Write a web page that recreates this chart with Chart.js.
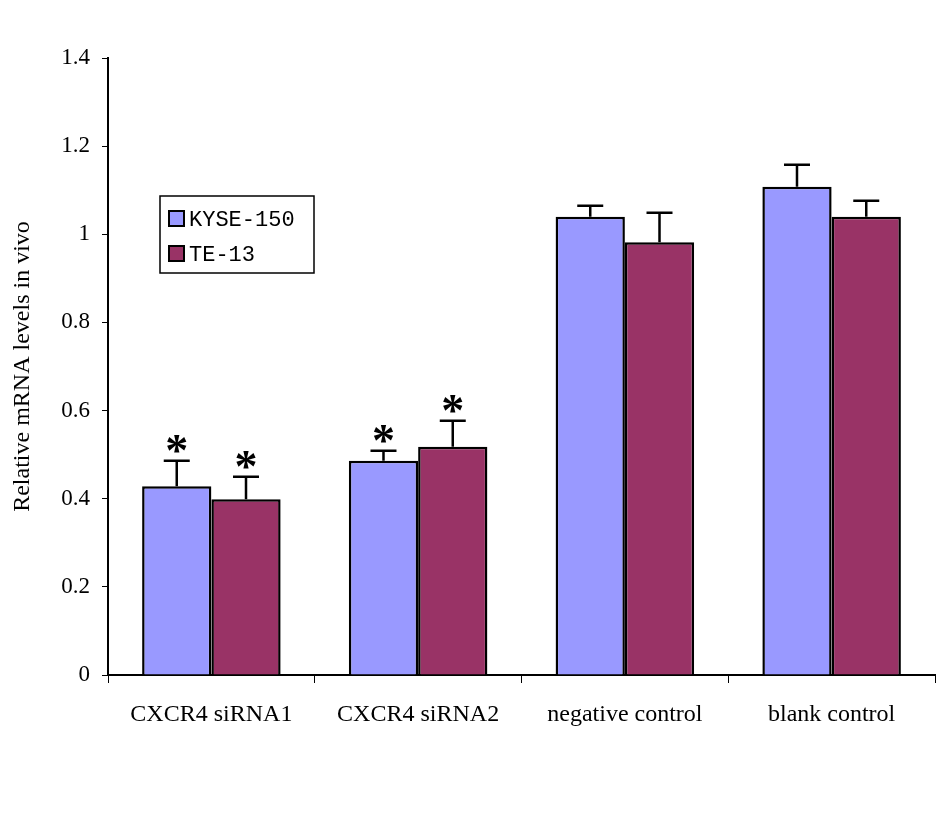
<!DOCTYPE html>
<html>
<head>
<meta charset="utf-8">
<script src="https://cdn.jsdelivr.net/npm/chart.js@4"></script>
<style>
  html, body { margin: 0; padding: 0; background: #fff; }
  #wrap { width: 945px; height: 815px; }
</style>
</head>
<body>
<div id="wrap"><canvas id="mrnaChart" width="945" height="815"></canvas></div>
<script>
// data
const categories = ['CXCR4 siRNA1', 'CXCR4 siRNA2', 'negative control', 'blank control'];
const kyseValues = [0.428, 0.486, 1.040, 1.108];
const kyseErrors = [0.058, 0.023, 0.025, 0.050];
const teValues = [0.399, 0.518, 0.982, 1.040];
const teErrors = [0.051, 0.059, 0.067, 0.036];
const kyseStars = [true, true, false, false];
const teStars = [true, true, false, false];
const yTicks = [0, 0.2, 0.4, 0.6, 0.8, 1, 1.2, 1.4];

const serif = '"Liberation Serif", "DejaVu Serif", serif';

// error bars (only upper whisker) + asterisks
const errorBarPlugin = {
    id: 'errorBars',
    afterDatasetsDraw(chart) {
        const ctx = chart.ctx;
        const yScale = chart.scales.y;
        chart.data.datasets.forEach((ds, i) => {
            const meta = chart.getDatasetMeta(i);
            meta.data.forEach((bar, j) => {
                const top = yScale.getPixelForValue(ds.data[j] + ds.errors[j]);
                ctx.save();
                ctx.strokeStyle = '#000';
                ctx.lineWidth = 2.5;
                ctx.beginPath();
                ctx.moveTo(bar.x, bar.y);
                ctx.lineTo(bar.x, top);
                ctx.moveTo(bar.x - 13, top);
                ctx.lineTo(bar.x + 13, top);
                ctx.stroke();
                if (ds.stars[j]) {
                    ctx.fillStyle = '#000';
                    ctx.font = 'bold 46px ' + serif;
                    ctx.textAlign = 'center';
                    ctx.textBaseline = 'alphabetic';
                    ctx.fillText('*', bar.x, top + 5);
                }
                ctx.restore();
            });
        });
    }
};

// legend box inside the plot
const boxLegendPlugin = {
    id: 'boxLegend',
    afterDraw(chart) {
        const ctx = chart.ctx;
        const x = 160, y = 196, w = 154, h = 77;
        ctx.save();
        ctx.fillStyle = '#fff';
        ctx.fillRect(x, y, w, h);
        ctx.strokeStyle = '#000';
        ctx.lineWidth = 1.5;
        ctx.strokeRect(x, y, w, h);
        ctx.font = '22px "Liberation Mono", "DejaVu Sans Mono", monospace';
        ctx.textBaseline = 'middle';
        chart.data.datasets.forEach((ds, i) => {
            const cy = y + 23 + i * 35;
            ctx.fillStyle = ds.backgroundColor;
            ctx.fillRect(x + 9, cy - 8, 15, 15);
            ctx.lineWidth = 2;
            ctx.strokeRect(x + 9, cy - 8, 15, 15);
            ctx.fillStyle = '#000';
            ctx.fillText(ds.label, x + 29, cy + 1);
        });
        ctx.restore();
    }
};

const ctxMrna = document.getElementById('mrnaChart').getContext('2d');
new Chart(ctxMrna, {
    type: 'bar',
    data: {
        labels: categories,
        datasets: [{
            label: 'KYSE-150',
            data: kyseValues,
            errors: kyseErrors,
            stars: kyseStars,
            backgroundColor: '#9999ff',
            borderColor: '#000',
            borderWidth: 2.5
        }, {
            label: 'TE-13',
            data: teValues,
            errors: teErrors,
            stars: teStars,
            backgroundColor: '#993366',
            borderColor: '#000',
            borderWidth: 2.5
        }]
    },
    options: {
        responsive: false,
        animation: false,
        layout: { padding: { top: 58, right: 10, left: 8, bottom: 0 } },
        datasets: { bar: { categoryPercentage: 0.67, barPercentage: 1.0 } },
        plugins: { legend: { display: false }, tooltip: { enabled: false } },
        scales: {
            x: {
                grid: { drawOnChartArea: false, color: '#000', tickLength: 8, offset: true },
                border: { color: '#000', width: 2 },
                ticks: { color: '#000', font: { family: serif, size: 24 }, padding: 17, maxRotation: 0 },
                afterFit(scale) { scale.height = 140; }
            },
            y: {
                min: 0, max: 1.4,
                afterBuildTicks(scale) { scale.ticks = yTicks.map(v => ({ value: v })); },
                grid: { drawOnChartArea: false, color: '#000', tickLength: 6 },
                border: { color: '#000', width: 2 },
                ticks: {
                    color: '#000',
                    font: { family: serif, size: 23 },
                    padding: 12,
                    callback: v => String(parseFloat(Number(v).toFixed(1)))
                },
                title: {
                    display: true,
                    text: 'Relative mRNA levels in vivo',
                    color: '#000',
                    font: { family: serif, size: 24 },
                    padding: { top: 0, bottom: 10 }
                },
                afterFit(scale) { scale.width = 100; }
            }
        }
    },
    plugins: [errorBarPlugin, boxLegendPlugin]
});
</script>
</body>
</html>
